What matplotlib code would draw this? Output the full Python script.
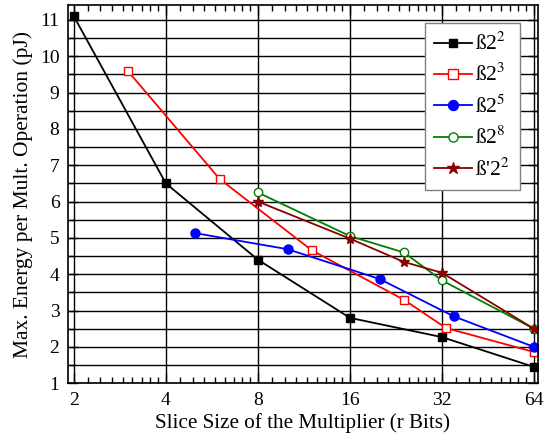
import matplotlib
matplotlib.use("Agg")
import matplotlib.pyplot as plt
from matplotlib.ticker import FixedLocator, NullFormatter

plt.rcParams['font.family'] = ['Liberation Serif', 'DejaVu Serif']
plt.rcParams['mathtext.fontset'] = 'stix'
plt.rcParams['font.size'] = 14

# data
x_b22 = [2, 4, 8, 16, 32, 64]
y_b22 = [11.1, 6.5, 4.4, 2.8, 2.27, 1.45]
x_b23 = [3, 6, 12, 24, 33, 64]
y_b23 = [9.6, 6.62, 4.66, 3.3, 2.52, 1.86]
x_b25 = [5, 10, 20, 35, 64]
y_b25 = [5.13, 4.69, 3.87, 2.84, 2.0]
x_b28 = [8, 16, 24, 32, 64]
y_b28 = [6.25, 5.05, 4.6, 3.83, 2.5]
x_bp22 = [8, 16, 24, 32, 64]
y_bp22 = [6.0, 4.98, 4.34, 4.04, 2.5]

xticks = [2, 4, 8, 16, 32, 64]

fig = plt.figure(figsize=(5.56, 4.38), dpi=100)
ax = fig.add_axes([0.1218, 0.125, 0.8452, 0.8636])

ax.plot(x_b22, y_b22, color='black', lw=1.3, marker='s', ms=5.5, label='ß2$^{2}$')
ax.plot(x_b23, y_b23, color='red', lw=1.3, marker='s', ms=6, mfc='white', label='ß2$^{3}$')
ax.plot(x_b25, y_b25, color='blue', lw=1.3, marker='o', ms=6.5, label='ß2$^{5}$')
ax.plot(x_b28, y_b28, color='green', lw=1.3, marker='o', ms=6, mfc='white', label='ß2$^{8}$')
ax.plot(x_bp22, y_bp22, color='#8b0000', lw=1.3, marker='*', ms=8, label="ß'2$^{2}$")

ax.set_xscale('log', base=2)
ax.set_xlim(1.91, 65.8)
ax.set_ylim(1, 11.41)
ax.set_xticks(xticks)
ax.set_xticklabels([str(t) for t in xticks])
minors = [a + a * k / 9 for a in xticks[:-1] for k in range(1, 9)]
ax.xaxis.set_minor_locator(FixedLocator(minors))
ax.xaxis.set_minor_formatter(NullFormatter())
ax.set_yticks(range(1, 12))
ax.yaxis.set_minor_locator(FixedLocator([v + 0.5 for v in range(1, 11)]))

ax.tick_params(which='both', direction='in', top=True, right=True, labelsize=14)
ax.tick_params(which='major', length=7, width=1)
ax.tick_params(which='minor', length=4, width=1)
ax.tick_params(axis='x', which='major', pad=6)
ax.tick_params(axis='y', which='major', pad=6)

ax.grid(True, which='major', axis='x', color='black', lw=1)
ax.grid(True, which='both', axis='y', color='black', lw=1)
for s in ax.spines.values():
    s.set_linewidth(1.2)

ax.set_xlabel('Slice Size of the Multiplier (r Bits)', fontsize=15.2, labelpad=3)
ax.set_ylabel('Max. Energy per Mult. Operation (pJ)', fontsize=15.5, labelpad=5)

leg = ax.legend(loc='upper right', bbox_to_anchor=(0.962, 0.952), borderaxespad=0,
                fancybox=False, framealpha=1, edgecolor='gray', fontsize=15.5,
                handlelength=1.75, labelspacing=0.42, borderpad=0.45,
                handletextpad=0.15, markerscale=1.1)
leg.get_frame().set_linewidth(1)

fig.savefig('out.png', dpi=100)
